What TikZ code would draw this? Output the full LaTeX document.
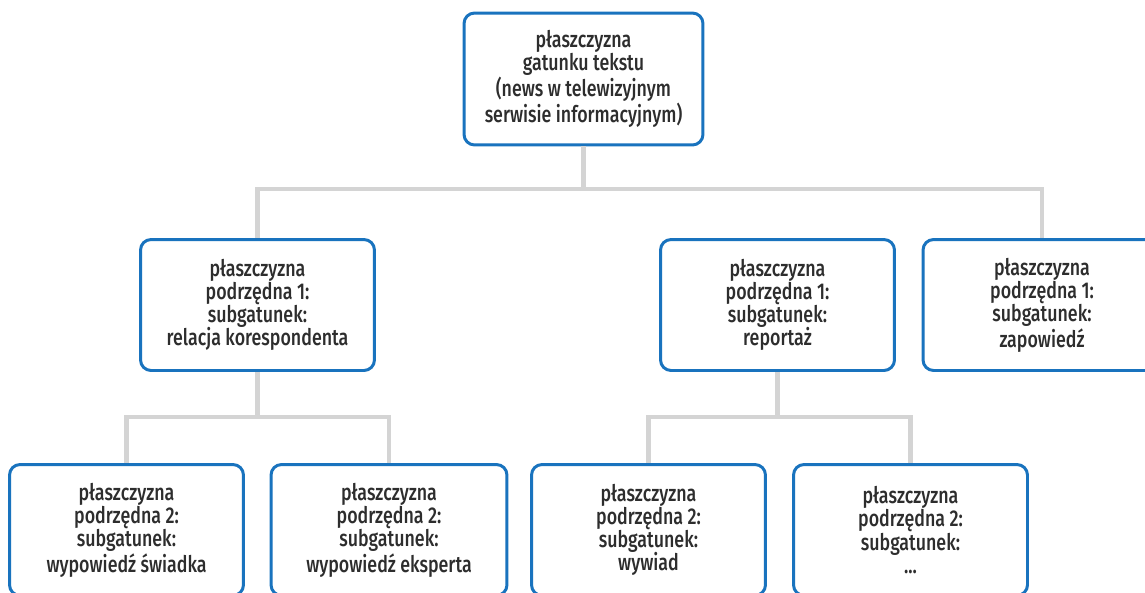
\documentclass[tikz,border=0pt]{standalone}
\usepackage{fontspec}
\setmainfont{Fira Sans}[UprightFont={* Medium}, FakeStretch=0.78]
\usetikzlibrary{positioning}
\definecolor{boxblue}{RGB}{25,115,190}
\definecolor{linkgray}{RGB}{212,212,212}
\definecolor{textgray}{RGB}{45,45,45}
\begin{document}
\begin{tikzpicture}[x=0.02cm, y=-0.02cm,
  level/.style={draw=boxblue, line width=1.7pt, rounded corners=6pt, fill=white,
    minimum width=4.68cm, minimum height=2.62cm, align=center, inner sep=0pt,
    text=textgray, font=\fontsize{13}{13.2}\selectfont},
  link/.style={draw=linkgray, line width=2.3pt}]
\useasboundingbox (0,0) rectangle (1145,592);
\clip (0,0) rectangle (1145,592);
% bars
\coordinate (bar0) at (0,189);
\coordinate (bar1) at (0,417);
% top
\node[level, minimum width=4.78cm, minimum height=2.64cm] (top) at (583.5,79)
  {płaszczyzna\\gatunku tekstu\\(news w telewizyjnym\\serwisie informacyjnym)};
% level 1
\node[level] (sub1a) at (257.5,305) {płaszczyzna\\podrzędna 1:\\subgatunek:\\relacja korespondenta};
\node[level] (sub1b) at (777.5,305) {płaszczyzna\\podrzędna 1:\\subgatunek:\\reportaż};
\node[level, minimum width=4.76cm] (sub1c) at (1042,305) {płaszczyzna\\podrzędna 1:\\subgatunek:\\zapowiedź};
% level 2
\node[level] (sub2a) at (126.5,530) {płaszczyzna\\podrzędna 2:\\subgatunek:\\wypowiedź świadka};
\node[level, minimum width=4.72cm] (sub2b) at (389,530) {płaszczyzna\\podrzędna 2:\\subgatunek:\\wypowiedź eksperta};
\node[level] (sub2c) at (648.5,530) {płaszczyzna\\podrzędna 2:\\subgatunek:\\wywiad};
\node[level] (sub2d) at (910.5,530) {płaszczyzna\\podrzędna 2:\\subgatunek:\\...};
% links
\draw[link] (top.south) -- (top.south |- bar0) -| (sub1a.north);
\draw[link] (top.south |- bar0) -| (sub1c.north);
\draw[link] (sub1a.south) -- (sub1a.south |- bar1) -| (sub2a.north);
\draw[link] (sub1a.south |- bar1) -| (sub2b.north);
\draw[link] (sub1b.south) -- (sub1b.south |- bar1) -| (sub2c.north);
\draw[link] (sub1b.south |- bar1) -| (sub2d.north);
\end{tikzpicture}
\end{document}
